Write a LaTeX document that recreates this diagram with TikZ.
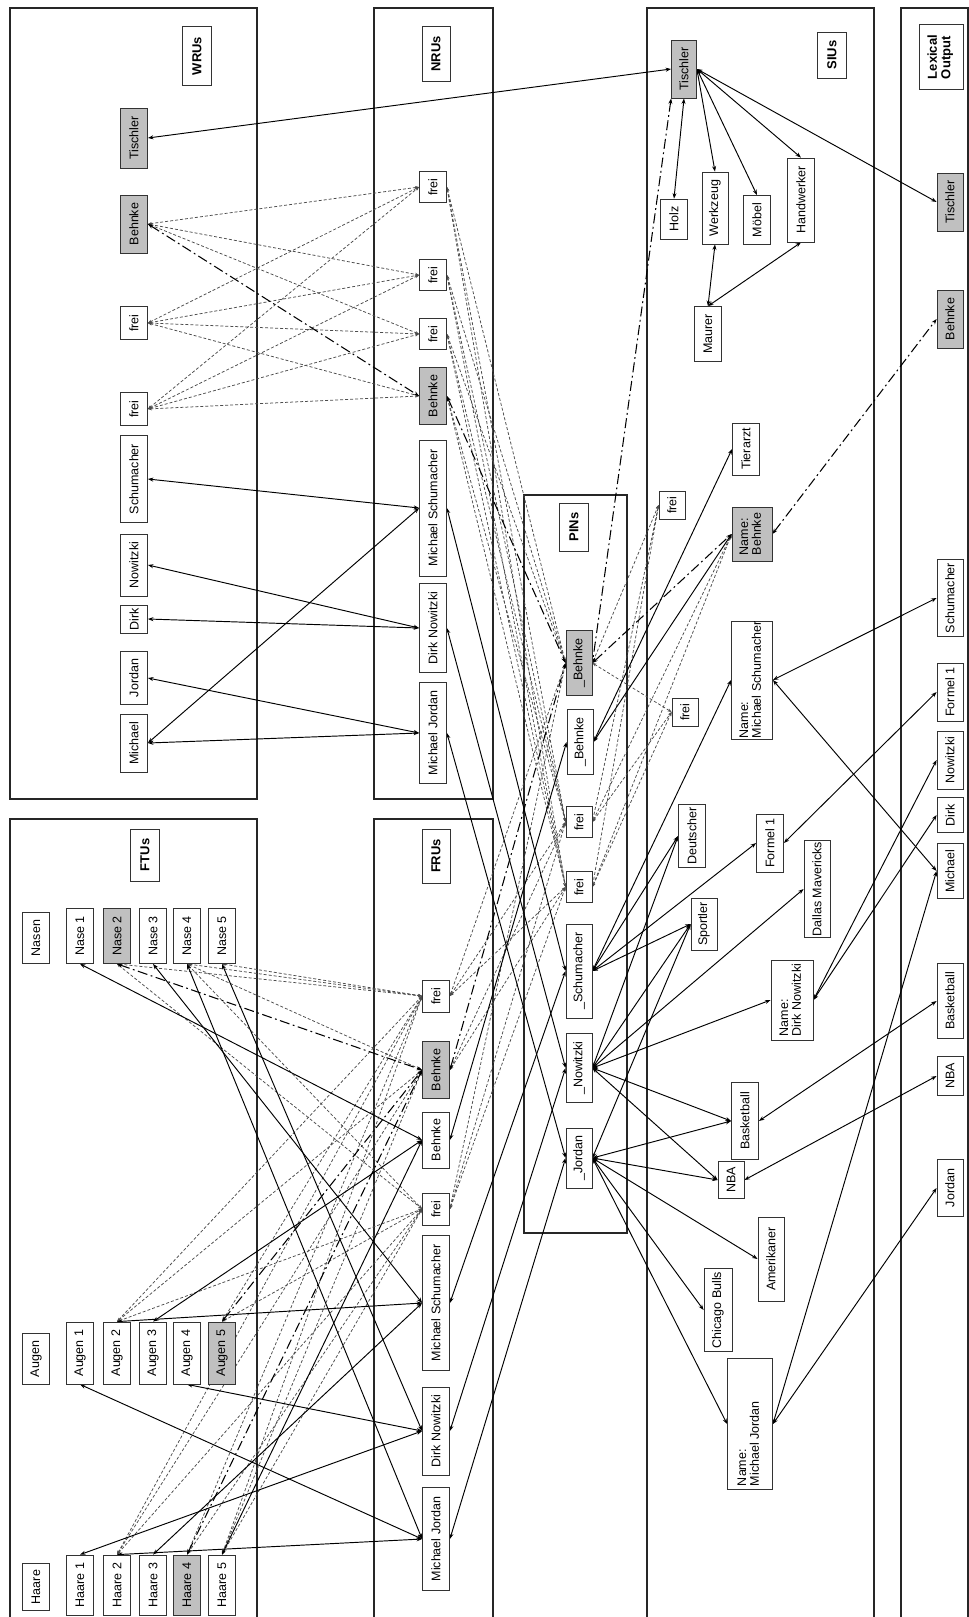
\documentclass[tikz,border=0pt]{standalone}
\usepackage{fontspec}
\setmainfont{Liberation Sans}
\usetikzlibrary{arrows.meta}
\definecolor{gfill}{RGB}{192,192,192}
\newcommand{\R}[1]{\rotatebox{90}{#1}}
\newcommand{\TL}[2]{\begin{tabular}{@{}l@{}}#1\\#2\end{tabular}}
\newcommand{\bxn}[7]{\node[#1, minimum width=#5, minimum height=#6] (#2) at (#3,#4) {\R{#7}};}
\pgfdeclarelayer{bg}
\pgfsetlayers{bg,main}
\begin{document}
\begin{tikzpicture}[x=1pt,y=-1pt,
  bx/.style={draw=black!80, fill=white, inner sep=0pt, line width=0.8pt, font=\fontsize{12.5}{12.5}\selectfont},
  gb/.style={bx, fill=gfill},
  tt/.style={bx, font=\fontsize{13}{13.5}\selectfont\bfseries},
  frm/.style={draw=black!85, line width=1.1pt},
  con/.style={{Stealth[length=5.5pt,width=4pt]}-{Stealth[length=5.5pt,width=4pt]}, line width=0.95pt},
  dsh/.style={{Stealth[length=4pt,width=3pt]}-{Stealth[length=4pt,width=3pt]}, line width=0.75pt, draw=black!70, dash pattern=on 3pt off 2pt},
  ddt/.style={{Stealth[length=5.5pt,width=4pt]}-{Stealth[length=5.5pt,width=4pt]}, line width=1.05pt, dash pattern=on 10pt off 3.5pt on 1.8pt off 3.5pt},
]
\useasboundingbox (0,0) rectangle (969,1617);
\begin{pgfonlayer}{bg}
\fill[white] (0,0) rectangle (969,1617);
\draw[frm] (10,8) rectangle (257,799);
\draw[frm] (374,8) rectangle (493,799);
\draw[frm] (10,1620) -- (10,819) -- (257,819) -- (257,1620);
\draw[frm] (374,1620) -- (374,819) -- (493,819) -- (493,1620);
\draw[frm] (524,495) rectangle (627,1233);
\draw[frm] (647,1620) -- (647,8) -- (874,8) -- (874,1620);
\draw[frm] (901,1620) -- (901,8) -- (968,8) -- (968,1620);
\end{pgfonlayer}

% titles
\node[tt, minimum width=29, minimum height=59] (tW) at (197,56) {\R{WRUs}};
\node[tt, minimum width=28, minimum height=55] (tN) at (436,54) {\R{NRUs}};
\node[tt, minimum width=29, minimum height=52] (tF) at (145,855) {\R{FTUs}};
\node[tt, minimum width=28, minimum height=54] (tFR) at (436,856) {\R{FRUs}};
\node[tt, minimum width=29, minimum height=48] (tP) at (574,527) {\R{PINs}};
\node[tt, minimum width=29, minimum height=46] (tS) at (832,55) {\R{SIUs}};
\node[tt, minimum width=44, minimum height=65] (tL) at (941,57) {\R{\TL{Lexical}{Output}}};

% WRUs
\bxn{gb}{wTi}{134}{138}{27}{60}{Tischler}
\bxn{gb}{wBe}{134}{224}{27}{58}{Behnke}
\bxn{bx}{wF1}{134}{323}{27}{33}{frei}
\bxn{bx}{wF2}{134}{409}{27}{33}{frei}
\bxn{bx}{wSch}{134}{479}{27}{87}{Schumacher}
\bxn{bx}{wNow}{134}{565}{27}{62}{Nowitzki}
\bxn{bx}{wDir}{134}{619}{27}{28}{Dirk}
\bxn{bx}{wJor}{134}{678}{27}{53}{Jordan}
\bxn{bx}{wMic}{134}{743}{27}{58}{Michael}

% NRUs
\bxn{bx}{nF1}{433}{187}{27}{31}{frei}
\bxn{bx}{nF2}{433}{275}{27}{31}{frei}
\bxn{bx}{nF3}{433}{334}{27}{31}{frei}
\bxn{gb}{nBe}{433}{396}{27}{57}{Behnke}
\bxn{bx}{nMS}{433}{508}{27}{136}{Michael Schumacher}
\bxn{bx}{nDN}{433}{628}{27}{89}{Dirk Nowitzki}
\bxn{bx}{nMJ}{433}{733}{27}{101}{Michael Jordan}

% FTUs
\bxn{bx}{Nasen}{36}{938}{27}{51}{Nasen}
\bxn{bx}{N1}{80}{936}{27}{55}{Nase 1}
\bxn{gb}{N2}{117}{936}{27}{55}{Nase 2}
\bxn{bx}{N3}{153}{936}{27}{55}{Nase 3}
\bxn{bx}{N4}{187}{936}{27}{55}{Nase 4}
\bxn{bx}{N5}{222}{936}{27}{55}{Nase 5}
\bxn{bx}{Augen}{36}{1359}{27}{51}{Augen}
\bxn{bx}{A1}{80}{1353}{27}{62}{Augen 1}
\bxn{bx}{A2}{117}{1353}{27}{62}{Augen 2}
\bxn{bx}{A3}{153}{1353}{27}{62}{Augen 3}
\bxn{bx}{A4}{187}{1353}{27}{62}{Augen 4}
\bxn{gb}{A5}{222}{1353}{27}{62}{Augen 5}
\bxn{bx}{Haare}{36}{1587}{27}{47}{Haare}
\bxn{bx}{H1}{80}{1585}{27}{60}{Haare 1}
\bxn{bx}{H2}{117}{1585}{27}{60}{Haare 2}
\bxn{bx}{H3}{153}{1585}{27}{60}{Haare 3}
\bxn{gb}{H4}{187}{1585}{27}{60}{Haare 4}
\bxn{bx}{H5}{222}{1585}{27}{60}{Haare 5}

% FRUs
\bxn{bx}{fF1}{436}{996}{27}{32}{frei}
\bxn{gb}{fBg}{436}{1070}{27}{57}{Behnke}
\bxn{bx}{fBw}{436}{1140}{27}{56}{Behnke}
\bxn{bx}{fF2}{436}{1209}{27}{32}{frei}
\bxn{bx}{fMS}{436}{1303}{27}{135}{Michael Schumacher}
\bxn{bx}{fDN}{436}{1431}{27}{88}{Dirk Nowitzki}
\bxn{bx}{fMJ}{436}{1539}{27}{103}{Michael Jordan}

% PINs
\bxn{gb}{pBg}{579}{663}{26}{65}{\_Behnke}
\bxn{bx}{pBw}{580}{742}{26}{65}{\_Behnke}
\bxn{bx}{pF1}{579}{822}{26}{31}{frei}
\bxn{bx}{pF2}{579}{887}{26}{31}{frei}
\bxn{bx}{pSch}{579}{971}{26}{94}{\_Schumacher}
\bxn{bx}{pNow}{579}{1068}{26}{69}{\_Nowitzki}
\bxn{bx}{pJor}{579}{1158}{26}{60}{\_Jordan}

% SIUs
\bxn{gb}{sTi}{684}{69}{25}{58}{Tischler}
\bxn{bx}{sHolz}{674}{219}{27}{40}{Holz}
\bxn{bx}{sWerk}{715}{208}{26}{72}{Werkzeug}
\bxn{bx}{sMoeb}{757}{220}{27}{49}{Möbel}
\bxn{bx}{sHand}{801}{200}{27}{84}{Handwerker}
\bxn{bx}{sMaur}{708}{334}{27}{55}{Maurer}
\bxn{bx}{sTier}{746}{449}{27}{52}{Tierarzt}
\bxn{bx}{sF1}{672}{505}{26}{28}{frei}
\bxn{gb}{sNB}{752}{534}{40}{54}{\TL{Name:}{Behnke}}
\bxn{bx}{sNMS}{752}{680}{41}{118}{\TL{Name:}{Michael Schumacher}}
\bxn{bx}{sF2}{685}{712}{26}{28}{frei}
\bxn{bx}{sDeu}{692}{836}{27}{63}{Deutscher}
\bxn{bx}{sFor}{770}{843}{27}{58}{Formel 1}
\bxn{bx}{sDal}{817}{889}{26}{97}{Dallas Mavericks}
\bxn{bx}{sSpo}{704}{924}{26}{52}{Sportler}
\bxn{bx}{sNDN}{792}{1000}{42}{80}{\TL{Name:}{Dirk Nowitzki}}
\bxn{bx}{sBas}{745}{1121}{27}{77}{Basketball}
\bxn{bx}{sNBA}{731}{1180}{26}{37}{NBA}
\bxn{bx}{sAme}{771}{1259}{26}{84}{Amerikaner}
\bxn{bx}{sChi}{718}{1310}{28}{83}{Chicago Bulls}
\bxn{bx}{sNMJ}{750}{1424}{45}{131}{\makebox[124pt][l]{\TL{Name:}{Michael Jordan}}}

% Lexical output
\bxn{gb}{lTi}{950}{202}{26}{58}{Tischler}
\bxn{gb}{lBe}{950}{319}{26}{58}{Behnke}
\bxn{bx}{lSch}{950}{598}{26}{77}{Schumacher}
\bxn{bx}{lFor}{950}{692}{26}{58}{Formel 1}
\bxn{bx}{lNow}{950}{760}{26}{58}{Nowitzki}
\bxn{bx}{lDir}{950}{815}{26}{35}{Dirk}
\bxn{bx}{lMic}{950}{871}{26}{55}{Michael}
\bxn{bx}{lBas}{950}{1001}{26}{75}{Basketball}
\bxn{bx}{lNBA}{950}{1076}{26}{39}{NBA}
\bxn{bx}{lJor}{950}{1188}{26}{57}{Jordan}

\begin{pgfonlayer}{bg}
% dashed connections
\foreach \a/\b in {wBe/nF1,wBe/nF2,wBe/nF3,wF1/nF1,wF1/nF2,wF1/nF3,wF1/nBe,wF2/nF1,wF2/nF2,wF2/nF3,wF2/nBe}
  \draw[dsh] (\a.east) -- (\b.west);
\foreach \a/\b in {nF1/pBg,nF1/pF1,nF1/pF2,nF2/pBg,nF2/pF1,nF2/pF2,nF3/pBg,nF3/pF1,nF3/pF2,nBe/pF1,nBe/pF2}
  \draw[dsh] (\a.east) -- (\b.west);
\foreach \a/\b in {fF1/pBg,fF1/pF1,fF1/pF2,fBg/pF1,fBg/pF2,fF2/pBg,fF2/pF1,fF2/pF2}
  \draw[dsh] (\a.east) -- (\b.west);
\foreach \a/\b in {pBg/sF1,pBg/sF2,pF1/sF1,pF1/sNB,pF1/sF2,pF2/sF1,pF2/sNB,pF2/sF2}
  \draw[dsh] (\a.east) -- (\b.west);
\foreach \a/\b in {N2/fF1,N2/fF2,N4/fF1,N4/fBg,N4/fF2,N5/fF1}
  \draw[dsh] (\a.south) -- (\b.west);
\foreach \a/\b in {A2/fF1,A2/fBg,A2/fF2,A5/fF1,A5/fF2,H2/fF1,H2/fBg,H2/fF2,H4/fF1,H4/fF2,H5/fF1,H5/fBg,H5/fF2}
  \draw[dsh] (\a.north) -- (\b.west);

% solid connections
\draw[con] (wTi.east) -- (sTi.west);
\foreach \a/\b in {wSch/nMS,wNow/nDN,wDir/nDN,wJor/nMJ,wMic/nMJ,wMic/nMS}
  \draw[con] (\a.east) -- (\b.west);
\foreach \a/\b in {nMS/pSch,nDN/pNow,nMJ/pJor,fMS/pSch,fDN/pNow,fMJ/pJor,fBw/pBw}
  \draw[con] (\a.east) -- (\b.west);
\foreach \a/\b in {N1/fBw,N3/fMS,N4/fMJ,N5/fDN,A1/fMJ,A4/fDN}
  \draw[con] (\a.south) -- (\b.west);
\foreach \a/\b in {A2/fMS,A3/fBw,H1/fDN,H2/fMJ,H3/fMS,H5/fBw}
  \draw[con] (\a.north) -- (\b.west);
\foreach \a/\b in {pBw/sTier,pBw/sNB,pSch/sNMS,pSch/sDeu,pSch/sFor,pSch/sSpo,pNow/sDeu,pNow/sSpo,pNow/sDal,pNow/sNDN,pNow/sBas,pNow/sNBA,pJor/sSpo,pJor/sBas,pJor/sNBA,pJor/sAme,pJor/sChi,pJor/sNMJ}
  \draw[con] (\a.east) -- (\b.west);
\draw[con] (sTi.south) -- (sHolz.north);
\draw[con] (sTi.east) -- (sWerk.north);
\draw[con] (sTi.east) -- (sMoeb.north);
\draw[con] (sTi.east) -- (sHand.north);
\draw[con] (sMaur.north) -- (sWerk.south);
\draw[con] (sMaur.north) -- (sHand.south);
\draw[con] (sTi.east) -- (lTi.west);
\foreach \a/\b in {sNMS/lSch,sNMS/lMic,sFor/lFor,sNDN/lNow,sNDN/lDir,sBas/lBas,sNBA/lNBA,sNMJ/lMic,sNMJ/lJor}
  \draw[con] (\a.east) -- (\b.west);

% dash-dot connections
\draw[ddt] (wBe.east) -- (nBe.west);
\draw[ddt] (nBe.east) -- (pBg.west);
\draw[ddt] (fBg.east) -- (pBg.west);
\draw[ddt] (sTi.south west) -- (pBg.east);
\draw[ddt] (pBg.east) -- (sNB.west);
\draw[ddt] (sNB.east) -- (lBe.west);
\draw[ddt] (N2.south) -- (fBg.west);
\draw[ddt] (A5.north) -- (fBg.west);
\draw[ddt] (H4.north) -- (fBg.west);
\end{pgfonlayer}
\end{tikzpicture}
\end{document}
